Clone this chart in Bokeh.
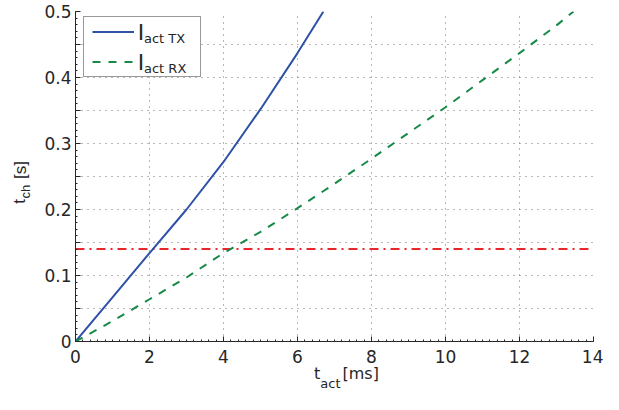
from bokeh.plotting import figure
from bokeh.models import Range1d, FixedTicker, Legend, LegendItem, LinearAxis
from bokeh.embed import file_html
from bokeh.resources import INLINE

# ---- data ----
tx_t_act = [0, 1, 2, 3, 4, 5, 6, 6.70]
tx_t_ch = [0, 0.067, 0.134, 0.200, 0.272, 0.352, 0.437, 0.500]

rx_t_act = [0, 1, 2, 3, 4, 5, 6, 7, 8, 9, 10, 11, 12, 13, 13.46]
rx_t_ch = [0, 0.031, 0.064, 0.097, 0.134, 0.166, 0.202, 0.239, 0.277,
           0.316, 0.355, 0.396, 0.437, 0.479, 0.50]

limit_t_act = [0, 14]
limit_t_ch = [0.14, 0.14]

x_ticks = [0, 2, 4, 6, 8, 10, 12, 14]
y_ticks = [0, 0.05, 0.1, 0.15, 0.2, 0.25, 0.3, 0.35, 0.4, 0.45, 0.5]
y_tick_labels = ["0", "", "0.1", "", "0.2", "", "0.3", "", "0.4", "", "0.5"]

legend_main = ["I", "I"]
legend_sub = ["act TX", "act RX"]

# ---- layout helpers (canvas px -> data) ----
FL, FT, FB = 75.0, 11.0, 341.0
XS = (593.0 - FL) / 14.0
YS = (FB - FT) / 0.5


def dx(px):
    return (px - FL) / XS


def dy(py):
    return (FB - py) / YS


FONT = "DejaVu Sans"
YF = "Liberation Sans"
INK = "#262626"

p = figure(width=603, height=394, x_range=Range1d(0, 14), y_range=Range1d(0, 0.5),
           output_backend="svg", toolbar_location=None,
           min_border_left=75, min_border_right=10, min_border_top=11, min_border_bottom=53)
p.outline_line_color = None
p.background_fill_color = "white"
p.border_fill_color = "white"

p.xaxis.ticker = FixedTicker(ticks=x_ticks, minor_ticks=[round(i * 0.2, 1) for i in range(71)])
p.yaxis.ticker = FixedTicker(ticks=y_ticks, minor_ticks=[round(i * 0.01, 2) for i in range(51)])
p.yaxis.major_label_overrides = {t: l for t, l in zip(y_ticks, y_tick_labels)}

for ax in (p.xaxis[0], p.yaxis[0]):
    ax.axis_line_color = INK
    ax.axis_line_width = 1
    ax.major_tick_in = 5
    ax.major_tick_out = 0
    ax.minor_tick_in = 2
    ax.minor_tick_out = 0
    ax.major_tick_line_color = INK
    ax.minor_tick_line_color = INK
    ax.major_label_text_font = FONT
    ax.major_label_text_font_size = "17px"
    ax.major_label_text_color = INK
p.xaxis.major_label_standoff = 8
p.yaxis.major_label_standoff = 4

for g in (p.xgrid[0], p.ygrid[0]):
    g.grid_line_color = "#707070"
    g.grid_line_dash = "1 5"
    g.grid_line_width = 1

p.line(limit_t_act, limit_t_ch, line_color="#e8262b", line_width=2, line_dash="9 5 2 5")
r_tx = p.line(tx_t_act, tx_t_ch, line_color="#2f51a6", line_width=2)
r_rx = p.line(rx_t_act, rx_t_ch, line_color="#178a48", line_width=2, line_dash="8 8")

# legend box with the line samples
box = Legend(items=[LegendItem(label=" ", renderers=[r_tx]),
                    LegendItem(label=" ", renderers=[r_rx])],
             location=(8, FB - 77), padding=8, spacing=17, glyph_height=13, glyph_width=42,
             label_height=13, label_width=53, label_standoff=5, label_text_font_size="1px",
             border_line_color="#333333", border_line_width=1, margin=0,
             background_fill_color="white", background_fill_alpha=1)
p.add_layout(box)

# legend texts: main letter and subscript, as two transparent legends
main_leg = Legend(items=[LegendItem(label=m, renderers=[r]) for m, r in zip(legend_main, [r_tx, r_rx])],
                  location=(137.8 - FL, FB - 75.7), padding=0, spacing=4, glyph_height=26, glyph_width=0,
                  label_height=26, label_width=1, label_standoff=0, margin=0,
                  label_text_font=FONT, label_text_font_size="22px", label_text_color=INK,
                  border_line_color=None, background_fill_alpha=0)
p.add_layout(main_leg)
sub_leg = Legend(items=[LegendItem(label=s, renderers=[r]) for s, r in zip(legend_sub, [r_tx, r_rx])],
                 location=(144.0 - FL, FB - 76.7), padding=0, spacing=14, glyph_height=16, glyph_width=0,
                 label_height=16, label_width=1, label_standoff=0, margin=0,
                 label_text_font=FONT, label_text_font_size="13px", label_text_color=INK,
                 border_line_color=None, background_fill_alpha=0)
p.add_layout(sub_leg)


def text_axis(side, items, font, size, standoff, orientation="horizontal"):
    conv = dx if side == "below" else dy
    ticks = [conv(c) for c, _ in items]
    ax = LinearAxis(ticker=FixedTicker(ticks=ticks, minor_ticks=[]),
                    major_label_overrides={t: s for t, (_, s) in zip(ticks, items)},
                    axis_line_color=None, major_tick_line_color=None, minor_tick_line_color=None,
                    major_tick_in=0, major_tick_out=0, minor_tick_in=0, minor_tick_out=0,
                    major_label_standoff=standoff, major_label_orientation=orientation,
                    major_label_text_font=font, major_label_text_font_size=size,
                    major_label_text_color=INK)
    p.add_layout(ax, side)


# x axis title: t_act [ms]  (centres of each piece in canvas px)
text_axis("below", [(316.6, "t"), (360.2, "[ms]")], FONT, "16px", -2)
text_axis("below", [(329.9, "act")], FONT, "13px", -10)

# y axis title: t_ch [s]  (rotated; centres in canvas px)
text_axis("left", [(191.0, "ch")], YF, "13px", 9, "parallel")
text_axis("left", [(200.8, "t"), (169.5, "[s]")], YF, "17px", -15, "parallel")

open("out.html", "w").write(file_html(p, INLINE))
